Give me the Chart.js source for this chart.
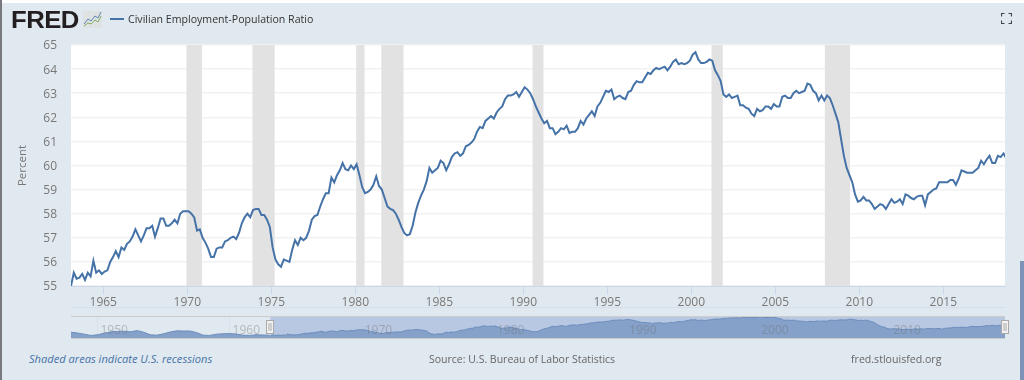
<!DOCTYPE html>
<html>
<head>
<meta charset="utf-8">
<title>Civilian Employment-Population Ratio</title>
<script src="https://cdn.jsdelivr.net/npm/chart.js@4"></script>
<style>
    html, body { margin: 0; padding: 0; background: #e1e9f0; }
    body { width: 1024px; height: 380px; overflow: hidden; position: relative; font-family: "Open Sans", sans-serif; }
    canvas { position: absolute; left: 0; }
    .txt { position: absolute; white-space: nowrap; font-size: 10.6px; line-height: 16px; }
    .edge { position: absolute; }
</style>
</head>
<body>
<div class="edge" style="left:0;top:0;width:1024px;height:3px;background:#fff"></div>
<div class="edge" style="left:0;top:0;width:2px;height:380px;background:#77797c"></div>
<div class="edge" style="left:1020px;top:261px;width:4px;height:119px;background:#7e93b8"></div>

<canvas id="main-chart" width="1024" height="310" style="top:0"></canvas>
<div class="edge" style="left:71px;top:307px;width:934px;height:1px;background:#d3deeb"></div>
<canvas id="nav-chart" width="1024" height="40" style="top:310px"></canvas>

<div class="txt" style="left:11px;top:6px;font:bold 24px/28px 'Liberation Sans';letter-spacing:-0.5px;color:#231f20;transform:scaleX(1.07);transform-origin:left">FRED</div>
<svg class="edge" style="left:83px;top:10px" width="20" height="19">
    <rect x="0" y="1" width="19" height="17" fill="#dfe2e3"/>
    <polyline points="1,14 5,9 8,11 12,6 15,8 18,2" fill="none" stroke="#5d87b5" stroke-width="1"/>
    <polyline points="1,16 5,13 8,14 12,10 15,12 18,6" fill="none" stroke="#86ab62" stroke-width="1"/>
</svg>
<div class="edge" style="left:110px;top:18px;width:14px;height:2px;background:#4572a7"></div>
<div class="txt" style="left:128px;top:11px;color:#333">Civilian Employment-Population Ratio</div>
<svg class="edge" style="left:1001px;top:13px" width="11" height="11">
    <path d="M0.5 3.5V0.5H3.5M7.5 0.5H10.5V3.5M10.5 7.5V10.5H7.5M3.5 10.5H0.5V7.5" fill="none" stroke="#444" stroke-width="1.2"/>
</svg>

<div class="txt" style="left:29px;top:351px;color:#4572a7;font-style:italic;font-size:11.1px">Shaded areas indicate U.S. recessions</div>
<div class="txt" style="left:429px;top:351px;color:#666;font-size:10.5px">Source: U.S. Bureau of Labor Statistics</div>
<div class="txt" style="left:851px;top:351px;color:#666">fred.stlouisfed.org</div>

<script>
// values, one every two months starting Feb 1963
const ratio1960s = [
    55.0, 55.55, 55.3, 55.35, 55.5, 55.25,
    55.55, 55.4, 56.05, 55.55, 55.65, 55.5,
    55.6, 55.65, 56.0, 56.2, 56.45, 56.2,
    56.6, 56.5, 56.75, 56.85, 57.05, 57.35,
    57.1, 56.85, 57.1, 57.4, 57.4, 57.5,
    57.05, 57.4, 57.8, 57.8, 57.5, 57.5,
    57.6, 57.75, 57.6, 58.0, 58.1, 58.1
];
const ratio1970s = [
    58.1, 58.0, 57.85, 57.3, 57.35, 57.0,
    56.8, 56.55, 56.2, 56.2, 56.55, 56.6,
    56.6, 56.85, 56.9, 57.0, 57.05, 56.95,
    57.2, 57.6, 57.85, 58.0, 57.85, 58.15,
    58.2, 58.2, 57.95, 57.95, 57.75, 57.45,
    56.6, 56.1, 55.9, 55.8, 56.1, 56.05,
    56.0, 56.5, 56.9, 56.7, 57.0, 56.9,
    57.0, 57.3, 57.75, 57.9, 57.95, 58.3,
    58.6, 58.85, 58.85, 59.5, 59.3, 59.6,
    59.8, 60.1, 59.85, 59.8, 60.0, 59.85
];
const ratio1980s = [
    60.05, 59.6, 59.1, 58.85, 58.9, 59.0,
    59.2, 59.55, 59.15, 59.0, 58.65, 58.3,
    58.2, 58.15, 58.0, 57.75, 57.45, 57.2,
    57.1, 57.15, 57.5, 58.05, 58.45, 58.75,
    59.0, 59.35, 59.9, 59.7, 59.8, 59.9,
    60.2, 60.1, 59.8, 60.05, 60.35, 60.5,
    60.55, 60.4, 60.5, 60.8, 60.85, 60.95,
    61.1, 61.4, 61.6, 61.55, 61.85, 61.95,
    62.05, 61.95, 62.2, 62.35, 62.45, 62.75,
    62.9, 62.9, 62.95, 63.05, 62.85, 63.05
];
const ratio1990s = [
    63.25, 63.15, 63.0, 62.75, 62.45, 62.2,
    61.95, 61.75, 61.85, 61.55, 61.55, 61.3,
    61.4, 61.55, 61.5, 61.65, 61.35, 61.4,
    61.4, 61.55, 61.85, 61.7, 61.95, 62.1,
    62.25, 62.05, 62.45, 62.6, 62.85, 63.1,
    63.05, 63.15, 62.75, 62.85, 62.9, 62.8,
    62.75, 63.05, 63.1, 63.35, 63.5, 63.45,
    63.45, 63.65, 63.85, 63.8, 63.95, 64.05,
    64.0, 64.05, 64.1, 63.95, 64.1, 64.3,
    64.4, 64.2, 64.25, 64.2, 64.25, 64.35
];
const ratio2000s = [
    64.6, 64.7, 64.4, 64.25, 64.25, 64.3,
    64.4, 64.35, 63.95, 63.75, 63.5, 62.95,
    62.85, 62.95, 62.8, 62.85, 62.9, 62.5,
    62.5, 62.4, 62.35, 62.15, 62.05, 62.35,
    62.25, 62.3, 62.45, 62.45, 62.35, 62.55,
    62.45, 62.45, 62.85, 62.9, 62.8, 62.8,
    63.0, 63.1, 63.0, 63.05, 63.1, 63.4,
    63.35, 63.1, 63.0, 62.7, 62.9, 62.7,
    62.9, 62.8, 62.5, 62.15, 61.8, 61.1,
    60.4, 59.9, 59.6, 59.3, 58.8, 58.5
];
const ratio2010s = [
    58.55, 58.7, 58.55, 58.55, 58.4, 58.2,
    58.3, 58.4, 58.35, 58.2, 58.4, 58.6,
    58.45, 58.5, 58.6, 58.4, 58.8, 58.75,
    58.65, 58.6, 58.7, 58.75, 58.75, 58.35,
    58.8, 58.9, 59.0, 59.05, 59.3, 59.3,
    59.3, 59.3, 59.4, 59.4, 59.2, 59.45,
    59.8, 59.75, 59.7, 59.7, 59.7, 59.8,
    59.9, 60.2, 60.05, 60.25, 60.4, 60.1,
    60.1, 60.4, 60.35, 60.5, 60.3
];
// only seen in the small navigator, two per year from 1948
const ratioEarly = [
    56.9, 56.5, 55.9, 55.3, 55.6, 56.4, 57.1, 57.3, 57.4, 57.1,
    57.7, 56.9, 55.6, 55.4, 56.1, 57.0, 57.6, 57.5, 57.5, 56.7,
    55.4, 55.3, 55.9, 56.1, 56.2, 56.0, 55.4, 55.3, 55.6, 55.5, 55.4
];
const recessionStarts = [1969.95, 1973.88, 1980.05, 1981.55, 1990.55, 2001.2, 2007.95];
const recessionEnds = [1970.87, 1975.2, 1980.55, 1982.87, 1991.2, 2001.87, 2009.45];
const yMin = 55, yMax = 65;
const xMin = 1963.08, xMax = 2018.67;
const navXMin = 1948, navXMax = 2018.67;

const ratio = [...ratio1960s, ...ratio1970s, ...ratio1980s, ...ratio1990s, ...ratio2000s, ...ratio2010s];
const mainPoints = ratio.map((v, i) => ({ x: xMin + i / 6, y: v }));
const navPoints = ratioEarly.map((v, i) => ({ x: 1948 + i / 2, y: v })).concat(mainPoints);

const lineBlue = '#4572a7';
const tickColor = '#777';
const axisLine = '#ccd6eb';

const plotBackground = {
    id: 'plotBackground',
    beforeDraw(chart) {
        const { ctx, chartArea } = chart;
        ctx.save();
        ctx.fillStyle = '#fff';
        ctx.fillRect(chartArea.left, chartArea.top, chartArea.right - chartArea.left, chartArea.bottom - chartArea.top);
        ctx.restore();
    }
};

const recessionBands = {
    id: 'recessionBands',
    beforeDatasetsDraw(chart) {
        const { ctx, chartArea, scales } = chart;
        ctx.save();
        ctx.fillStyle = '#e2e2e2';
        recessionStarts.forEach((s, i) => {
            const x0 = scales.x.getPixelForValue(s);
            const x1 = scales.x.getPixelForValue(recessionEnds[i]);
            ctx.fillRect(x0, chartArea.top, x1 - x0, chartArea.bottom - chartArea.top);
        });
        ctx.restore();
    }
};

new Chart(document.getElementById('main-chart'), {
    type: 'line',
    data: {
        datasets: [{
            label: 'Civilian Employment-Population Ratio',
            data: mainPoints,
            borderColor: lineBlue,
            borderWidth: 2,
            pointRadius: 0,
            tension: 0
        }]
    },
    options: {
        responsive: false,
        animation: false,
        layout: { padding: { top: 45, right: 19, left: 0, bottom: 0 } },
        plugins: { legend: { display: false }, tooltip: { enabled: false } },
        scales: {
            x: {
                type: 'linear',
                min: xMin,
                max: xMax,
                afterFit(scale) { scale.height = 24; },
                grid: { drawOnChartArea: false, color: axisLine, tickLength: 8 },
                border: { color: axisLine },
                ticks: {
                    stepSize: 5,
                    includeBounds: false,
                    autoSkip: false,
                    maxRotation: 0,
                    padding: 1,
                    color: tickColor,
                    font: { family: 'Open Sans', size: 12 },
                    callback: v => String(v)
                }
            },
            y: {
                min: yMin,
                max: yMax,
                afterFit(scale) { scale.width = 71; },
                grid: { color: '#f1f1f1', lineWidth: 1.5, drawTicks: false },
                border: { display: false },
                title: {
                    display: true,
                    text: 'Percent',
                    color: tickColor,
                    padding: { top: 16, bottom: 0 },
                    font: { family: 'Open Sans', size: 11.5 }
                },
                ticks: {
                    stepSize: 1,
                    padding: 14,
                    labelOffset: 1,
                    color: tickColor,
                    font: { family: 'Open Sans', size: 12 }
                }
            }
        }
    },
    plugins: [plotBackground, recessionBands]
});

// navigator strip: selection mask under the area, frame, labels and handles on top
const navDecor = {
    id: 'navDecor',
    beforeDatasetsDraw(chart) {
        const { ctx, chartArea, scales } = chart;
        const x0 = scales.x.getPixelForValue(xMin);
        ctx.save();
        ctx.fillStyle = '#b9c8e2';
        ctx.fillRect(x0, chartArea.top, chartArea.right - x0, chartArea.bottom - chartArea.top);
        ctx.restore();
    },
    afterDatasetsDraw(chart) {
        const { ctx, chartArea, scales } = chart;
        ctx.save();
        ctx.font = "12px 'Open Sans'";
        ctx.fillStyle = 'rgba(110,110,110,0.4)';
        ctx.textBaseline = 'middle';
        scales.x.ticks.forEach(t => {
            ctx.fillText(String(t.value), scales.x.getPixelForValue(t.value) + 3, 21);
        });
        ctx.strokeStyle = '#cccccc';
        ctx.beginPath();
        ctx.moveTo(chartArea.left, chartArea.top + 0.5);
        ctx.lineTo(chartArea.right, chartArea.top + 0.5);
        ctx.moveTo(chartArea.left, chartArea.bottom + 0.5);
        ctx.lineTo(chartArea.right, chartArea.bottom + 0.5);
        ctx.stroke();
        [xMin, xMax].forEach(v => {
            const x = Math.round(scales.x.getPixelForValue(v));
            ctx.fillStyle = '#f2f2f2';
            ctx.strokeStyle = '#a9a9a9';
            ctx.fillRect(x - 3.5, 10.5, 7, 13);
            ctx.strokeRect(x - 3.5, 10.5, 7, 13);
            ctx.fillStyle = '#a9a9a9';
            ctx.fillRect(x - 1.5, 13, 1, 8);
            ctx.fillRect(x + 0.5, 13, 1, 8);
        });
        ctx.restore();
    }
};

new Chart(document.getElementById('nav-chart'), {
    type: 'line',
    data: {
        datasets: [{
            data: navPoints,
            borderColor: '#6b8dbd',
            borderWidth: 1,
            backgroundColor: '#85a1c9',
            fill: 'start',
            pointRadius: 0,
            tension: 0
        }]
    },
    options: {
        responsive: false,
        animation: false,
        layout: { padding: { top: 6, right: 19, left: 71, bottom: 12 } },
        plugins: { legend: { display: false }, tooltip: { enabled: false } },
        scales: {
            x: {
                type: 'linear',
                min: navXMin,
                max: navXMax,
                afterFit(scale) { scale.height = 0; },
                grid: { color: '#d9e0ea', drawTicks: false },
                border: { display: false },
                ticks: {
                    display: false,
                    stepSize: 10,
                    includeBounds: false,
                    autoSkip: false
                }
            },
            y: { display: false, min: 54, max: 65 }
        }
    },
    plugins: [navDecor]
});
</script>
</body>
</html>
